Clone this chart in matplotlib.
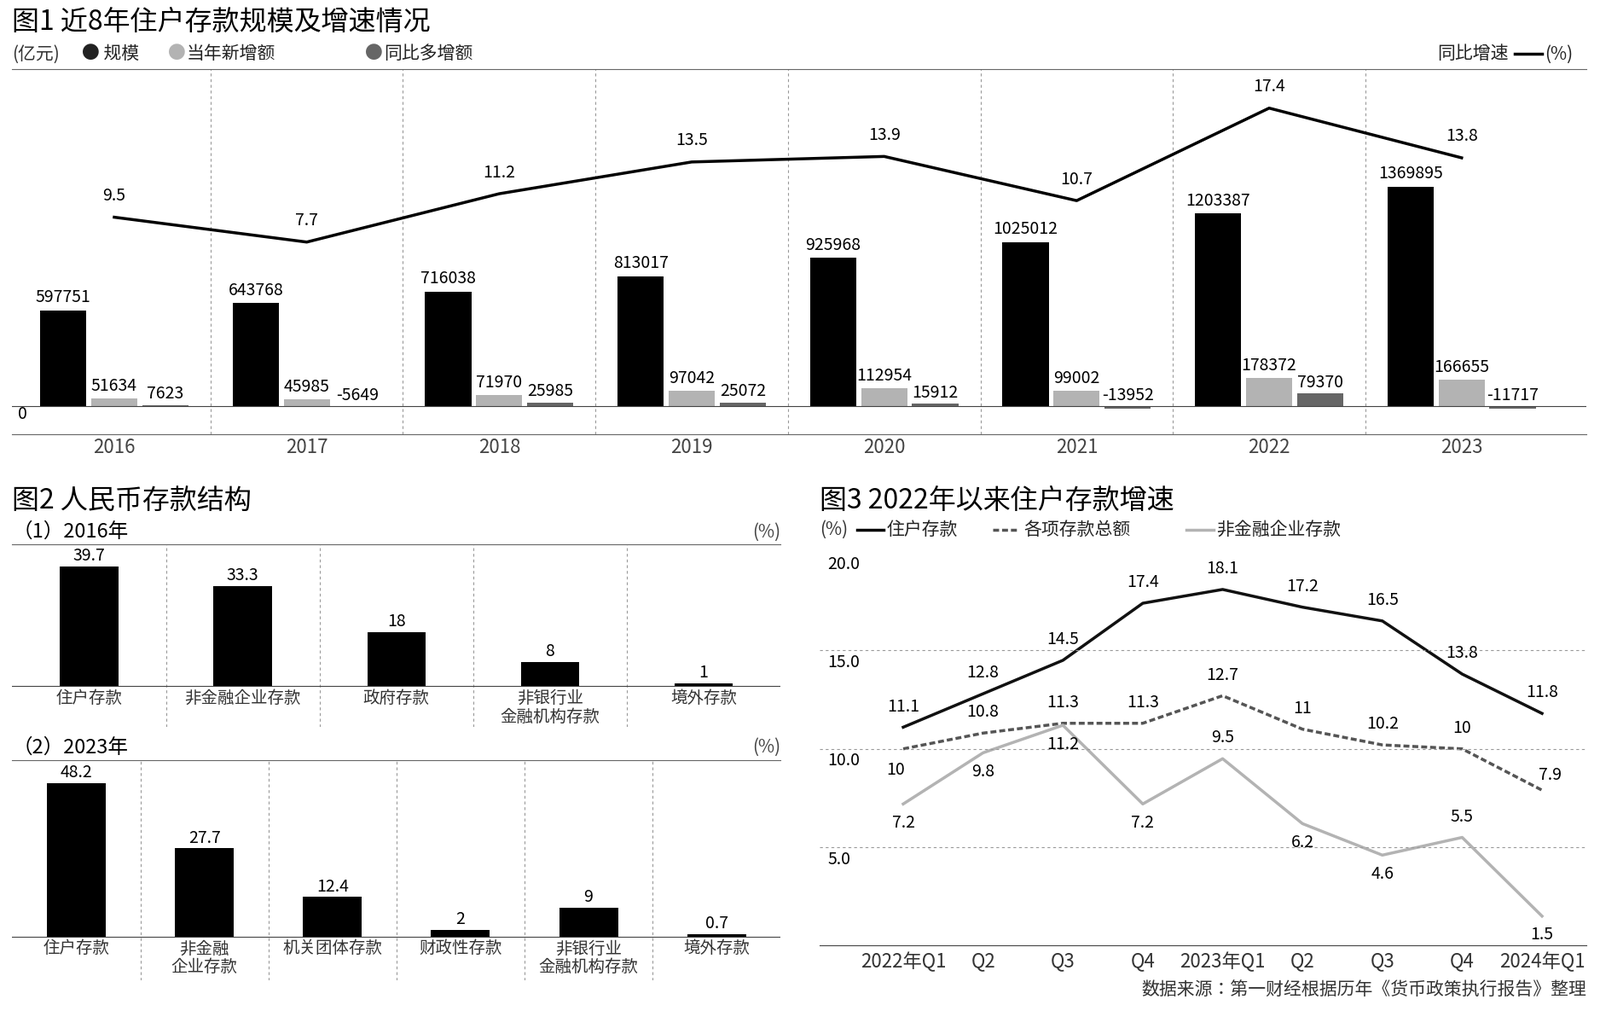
import matplotlib.pyplot as plt
from matplotlib.lines import Line2D

plt.rcParams["font.family"] = ["Noto Sans CJK SC", "Noto Sans CJK JP", "DejaVu Sans"]
plt.rcParams["axes.unicode_minus"] = False

# 图1 data
years = ["2016", "2017", "2018", "2019", "2020", "2021", "2022", "2023"]
scale = [597751, 643768, 716038, 813017, 925968, 1025012, 1203387, 1369895]
new_add = [51634, 45985, 71970, 97042, 112954, 99002, 178372, 166655]
yoy_more = [7623, -5649, 25985, 25072, 15912, -13952, 79370, -11717]
growth = [9.5, 7.7, 11.2, 13.5, 13.9, 10.7, 17.4, 13.8]

# 图2 data
cats16 = ["住户存款", "非金融企业存款", "政府存款", "非银行业\n金融机构存款", "境外存款"]
vals16 = [39.7, 33.3, 18, 8, 1]
cats23 = ["住户存款", "非金融\n企业存款", "机关团体存款", "财政性存款", "非银行业\n金融机构存款", "境外存款"]
vals23 = [48.2, 27.7, 12.4, 2, 9, 0.7]

# 图3 data
quarters = ["2022年Q1", "Q2", "Q3", "Q4", "2023年Q1", "Q2", "Q3", "Q4", "2024年Q1"]
household = [11.1, 12.8, 14.5, 17.4, 18.1, 17.2, 16.5, 13.8, 11.8]
total = [10, 10.8, 11.3, 11.3, 12.7, 11, 10.2, 10, 7.9]
nonfin = [7.2, 9.8, 11.2, 7.2, 9.5, 6.2, 4.6, 5.5, 1.5]

W, H = 1568, 990
fig = plt.figure(figsize=(18.76, 11.85), dpi=100)


def box(x0, y0, x1, y1):
    return [x0 / W, 1 - y1 / H, (x1 - x0) / W, (y1 - y0) / H]


def fx(x):
    return x / W


def fy(y):
    return 1 - y / H


BLK, GRY, DGR = "#000000", "#b3b3b3", "#666666"
NUM = 14
LEG = 15
TTL = 23

# ---------- 图1 ----------
fig.text(fx(12), fy(22), "图1 近8年住户存款规模及增速情况", fontsize=TTL, va="center")
fig.text(fx(12), fy(53), "(亿元)", fontsize=LEG, va="center", color="#333")
fig.text(fx(80), fy(53), "● 规模", fontsize=LEG, va="center", color="#222")
fig.text(fx(165), fy(53), "●", fontsize=LEG, va="center", color=GRY)
fig.text(fx(183), fy(53), "当年新增额", fontsize=LEG, va="center", color="#222")
fig.text(fx(358), fy(53), "●", fontsize=LEG, va="center", color=DGR)
fig.text(fx(376), fy(53), "同比多增额", fontsize=LEG, va="center", color="#222")
fig.text(fx(1478), fy(53), "同比增速", fontsize=LEG, va="center", ha="right", color="#222")
fig.add_artist(Line2D([fx(1484), fx(1511)], [fy(53), fy(53)], color="k", lw=2.5))
fig.text(fx(1514), fy(53), "(%)", fontsize=LEG, va="center", color="#222")

ax1 = fig.add_axes(box(12, 68, 1555, 425))
x = list(range(len(years)))
w = 0.24
ax1.bar([i - 0.265 for i in x], scale, w, color=BLK)
ax1.bar(x, new_add, w, color=GRY)
ax1.bar([i + 0.265 for i in x], yoy_more, w, color=DGR)
for i in x:
    ax1.text(i - 0.265, scale[i] + 25000, str(scale[i]), ha="center", va="bottom", fontsize=NUM)
    ax1.text(i, new_add[i] + 20000, str(new_add[i]), ha="center", va="bottom", fontsize=NUM)
    ax1.text(i + 0.265, max(yoy_more[i], 0) + 15000, str(yoy_more[i]), ha="center", va="bottom", fontsize=NUM)
    ax1.text(i, -255000, years[i], ha="center", va="center", fontsize=16, color="#444")
for i in x[:-1]:
    ax1.axvline(i + 0.5, color="#999", ls=(0, (3, 3)), lw=0.8)
ax1.axhline(0, color="#444", lw=0.8)
ax1.text(-0.5, -50000, "0", fontsize=NUM, va="center")
ax1.set_xlim(-0.53, 7.65)
ax1.set_ylim(-172000, 2103000)
ax1.set_xticks([])
ax1.set_yticks([])
for s in ["left", "right"]:
    ax1.spines[s].set_visible(False)
ax1.spines["top"].set_color("#666")
ax1.spines["bottom"].set_color("#666")
ax1b = ax1.twinx()
ax1b.plot(x, growth, color="k", lw=2.5)
for i in x:
    ax1b.text(i, growth[i] + 0.9, f"{growth[i]}", ha="center", va="bottom", fontsize=NUM)
ax1b.set_ylim(-6.2, 20.2)
ax1b.set_yticks([])
ax1b.axis("off")

# ---------- 图2 ----------
fig.text(fx(12), fy(490), "图2 人民币存款结构", fontsize=TTL, va="center")


def structure(axbox, cats, vals, ylim, bw, label, ly):
    fig.text(fx(12), fy(ly), label, fontsize=17, va="center")
    fig.text(fx(765), fy(ly), "(%)", fontsize=15, va="center", ha="right", color="#444")
    ax = fig.add_axes(box(*axbox))
    xs = list(range(len(cats)))
    ax.bar(xs, vals, bw, color=BLK)
    for i in xs:
        ax.text(i, vals[i] + 0.5, f"{vals[i]}", ha="center", va="bottom", fontsize=NUM)
        ax.text(i, -1.0, cats[i], ha="center", va="top", fontsize=14, color="#333", linespacing=1.05)
    for i in xs[:-1]:
        ax.axvline(i + 0.5, color="#999", ls=(0, (3, 3)), lw=0.8)
    ax.axhline(0, color="#444", lw=0.8)
    ax.set_xlim(-0.5, len(cats) - 0.5)
    ax.set_ylim(*ylim)
    ax.set_xticks([])
    ax.set_yticks([])
    for s in ["left", "right", "bottom"]:
        ax.spines[s].set_visible(False)
    ax.spines["top"].set_color("#666")


structure((12, 533, 765, 712), cats16, vals16, (-13.6, 47.1), 0.38, "（1）2016年", 521)
structure((12, 744, 765, 960), cats23, vals23, (-13.8, 55.6), 0.46, "（2）2023年", 732)

# ---------- 图3 ----------
fig.text(fx(803), fy(490), "图3 2022年以来住户存款增速", fontsize=TTL, va="center")
fig.text(fx(803), fy(519), "(%)", fontsize=LEG, va="center", color="#333")
fig.add_artist(Line2D([fx(840), fx(866)], [fy(519), fy(519)], color="k", lw=2.5))
fig.text(fx(869), fy(519), "住户存款", fontsize=LEG, va="center", color="#222")
fig.add_artist(Line2D([fx(973), fx(999)], [fy(519), fy(519)], color="#555", lw=2.5, ls=(0, (2, 1))))
fig.text(fx(1003), fy(519), "各项存款总额", fontsize=LEG, va="center", color="#222")
fig.add_artist(Line2D([fx(1163), fx(1189)], [fy(519), fy(519)], color=GRY, lw=2.5))
fig.text(fx(1192), fy(519), "非金融企业存款", fontsize=LEG, va="center", color="#222")

ax3 = fig.add_axes(box(803, 530, 1555, 926))
q = list(range(len(quarters)))
ax3.plot(q, household, color="#111", lw=2.5)
ax3.plot(q, total, color="#555", lw=2.5, ls=(0, (2, 1)))
ax3.plot(q, nonfin, color=GRY, lw=2.5)
for i in q:
    ax3.text(i, household[i] + 0.6, f"{household[i]:g}", ha="center", va="bottom", fontsize=NUM)
    if i == 0:
        ax3.text(i - 0.1, total[i] - 0.6, "10", ha="center", va="top", fontsize=NUM)
    elif i == 8:
        ax3.text(i + 0.1, total[i] + 0.3, "7.9", ha="center", va="bottom", fontsize=NUM)
    else:
        ax3.text(i, total[i] + 0.6, f"{total[i]:g}", ha="center", va="bottom", fontsize=NUM)
    if nonfin[i] in (9.5, 5.5):
        ax3.text(i, nonfin[i] + 0.6, f"{nonfin[i]:g}", ha="center", va="bottom", fontsize=NUM)
    else:
        ax3.text(i, nonfin[i] - 0.5, f"{nonfin[i]:g}", ha="center", va="top", fontsize=NUM)
for yv in (5, 10, 15):
    ax3.axhline(yv, color="#999", ls=(0, (3, 3)), lw=0.8)
for yv in (5, 10, 15, 20):
    ax3.text(-0.95, yv - 0.15, f"{yv:.1f}", fontsize=NUM, va="top")
ax3.set_xlim(-1.05, 8.56)
ax3.set_ylim(0, 20.55)
ax3.set_xticks(q)
ax3.set_xticklabels(quarters, fontsize=16, color="#333")
ax3.tick_params(length=0, pad=5)
ax3.set_yticks([])
for s in ["left", "right", "top"]:
    ax3.spines[s].set_visible(False)
ax3.spines["bottom"].set_color("#444")

fig.text(fx(1555), fy(970), "数据来源：第一财经根据历年《货币政策执行报告》整理",
         fontsize=15, ha="right", va="center", color="#333")

fig.savefig("out.png", dpi=100)
